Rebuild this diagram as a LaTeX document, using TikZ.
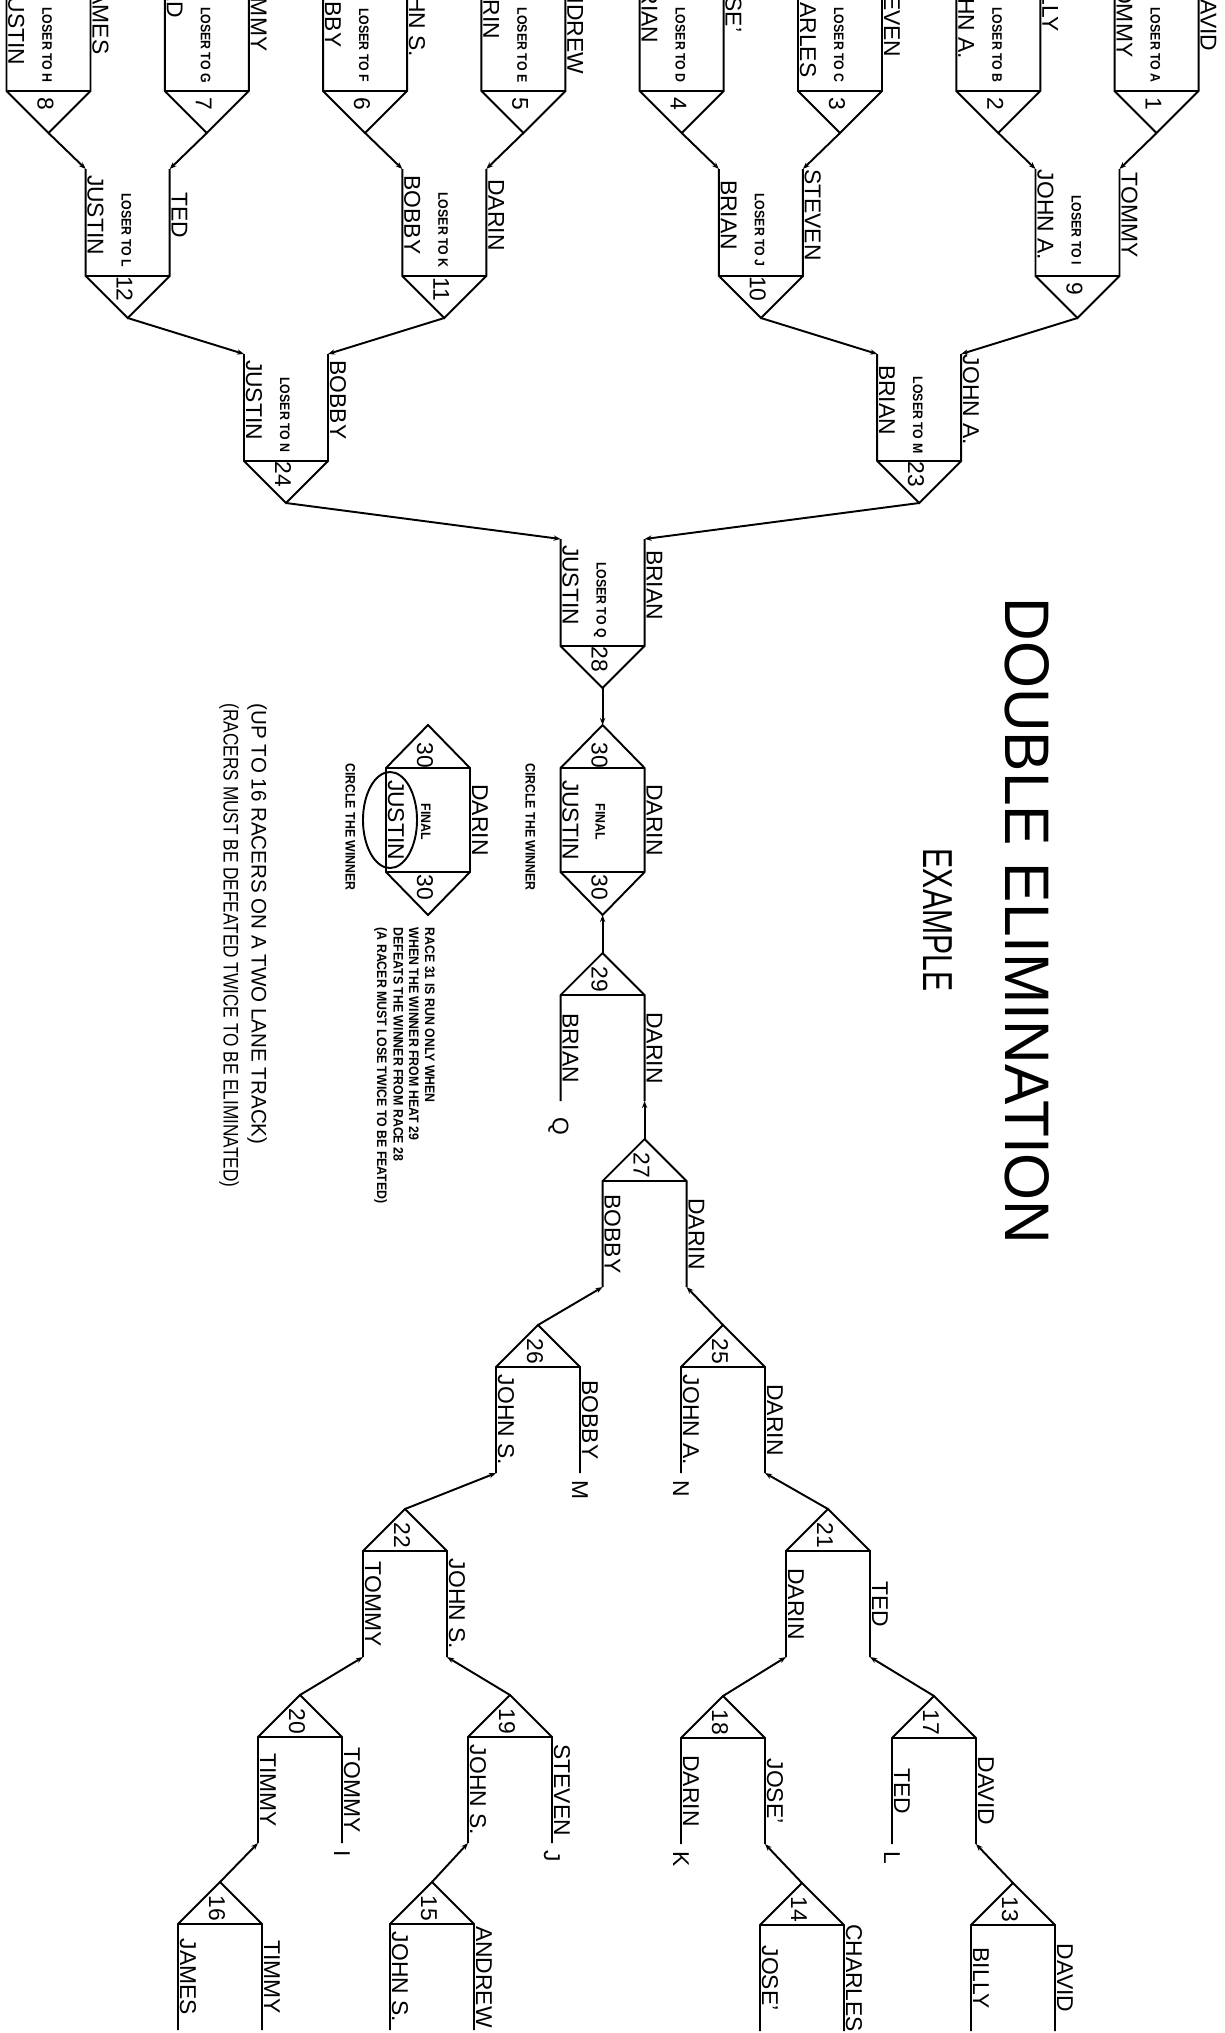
\documentclass[tikz,border=0pt]{standalone}
\usepackage{fontspec}
\usepackage{graphicx}
\setmainfont{Liberation Sans}
\usetikzlibrary{arrows.meta,calc}
\tikzset{
  ln/.style={line width=0.55pt, line join=miter},
  con/.style={line width=0.55pt, -{Stealth[length=2pt,width=1.5pt]}},
  nm/.style={rotate=-90, anchor=base, inner sep=0pt, font=\fontsize{6.5pt}{7pt}\selectfont},
  nmw/.style={nm, anchor=base west},
  nme/.style={nm, anchor=base east},
  sm/.style={rotate=-90, anchor=base, inner sep=0pt, font=\fontsize{3.9pt}{4.5pt}\selectfont\bfseries},
  smw/.style={sm, anchor=base west},
}
\newcommand\sq[1]{\scalebox{0.9}[1]{#1}}
% winners' race body: id, centre x, base y, number, loser letter
\newcommand\DBody[5]{%
  \coordinate (#1tl) at ({#2-42},{#3-107});
  \coordinate (#1tr) at ({#2+42},{#3-107});
  \coordinate (#1bl) at ({#2-42},{#3});
  \coordinate (#1br) at ({#2+42},{#3});
  \coordinate (#1ap) at ({#2},{#3+42});
  \draw[ln] (#1tl) -- (#1bl) -- (#1ap) -- (#1br) -- (#1tr);
  \draw[ln] (#1bl) -- (#1br);
  \node[nm] (#1num) at ({#2-11},{#3+13}) {#4};
  \node[sm] (#1los) at ({#2-6},{#3-46}) {\sq{LOSER TO #5}};
}
% winners' race with centred names
\newcommand\DRace[7]{%
  \DBody{#1}{#2}{#3}{#4}{#7}
  \node[nm] (#1lnm) at ({#2-40},{#3-61}) {#5};
  \node[nm] (#1rnm) at ({#2+44},{#3-61}) {#6};
}
% first-round race: id, centre x, number, left name, its end y, right name, its end y, letter
\newcommand\FirstRace[8]{%
  \DBody{#1}{#2}{91}{#3}{#8}
  \node[nme] (#1lnm) at ({#2-40},{#5}) {#4};
  \node[nme] (#1rnm) at ({#2+44},{#7}) {#6};
}
% losers' race: id, centre x, apex y, number, left name, right name
\newcommand\URace[6]{%
  \coordinate (#1ap) at ({#2},{#3});
  \coordinate (#1bl) at ({#2-42},{#3+42});
  \coordinate (#1br) at ({#2+42},{#3+42});
  \coordinate (#1lb) at ({#2-42},{#3+148});
  \coordinate (#1rb) at ({#2+42},{#3+148});
  \draw[ln] (#1lb) -- (#1bl) -- (#1ap) -- (#1br) -- (#1rb);
  \draw[ln] (#1bl) -- (#1br);
  \node[nm] (#1num) at ({#2-11},{#3+26}) {#4};
  \node[nm] (#1lnm) at ({#2-40},{#3+95}) {#5};
  \node[nm] (#1rnm) at ({#2+44},{#3+95}) {#6};
}
% final: id, centre x
\newcommand\FRace[2]{%
  \coordinate (#1ta) at ({#2},725);
  \coordinate (#1tl) at ({#2-42},768);
  \coordinate (#1tr) at ({#2+42},768);
  \coordinate (#1bl) at ({#2-42},872);
  \coordinate (#1br) at ({#2+42},872);
  \coordinate (#1ba) at ({#2},915);
  \draw[ln] (#1ta) -- (#1tr) -- (#1br) -- (#1ba) -- (#1bl) -- (#1tl) -- cycle;
  \draw[ln] (#1tl) -- (#1tr) (#1bl) -- (#1br);
  \node[nm] (#1tn) at ({#2-11},755) {30};
  \node[nm] (#1bn) at ({#2-11},887) {30};
  \node[sm] (#1fin) at ({#2-7},822) {\sq{FINAL}};
  \node[nm] (#1lnm) at ({#2-40},820) {JUSTIN};
  \node[nm] (#1rnm) at ({#2+44},820) {DARIN};
}
\begin{document}
\begin{tikzpicture}[x=0.01cm,y=-0.01cm]
\useasboundingbox (0,0) rectangle (1225,2033);
\clip (0,0) rectangle (1225,2033);
% winners' bracket, first round (names run off the top edge)
\FirstRace{r8}{48.5}{8}{JUSTIN}{66}{JAMES}{55}{H}
\FirstRace{r7}{206.8}{7}{TED}{19}{TIMMY}{52}{G}
\FirstRace{r6}{365.1}{6}{BOBBY}{48}{JOHN S.}{58}{F}
\FirstRace{r5}{523.4}{5}{DARIN}{40}{ANDREW}{75}{E}
\FirstRace{r4}{681.7}{4}{BRIAN}{44}{JOSE'}{33}{D}
\FirstRace{r3}{840.0}{3}{CHARLES}{78}{STEVEN}{58}{C}
\FirstRace{r2}{998.3}{2}{JOHN A.}{60}{BILLY}{32}{B}
\FirstRace{r1}{1156.6}{1}{TOMMY}{58}{DAVID}{52}{A}
% later rounds
\DRace{r12}{127.7}{276}{12}{JUSTIN}{TED}{L}
\DRace{r11}{444.3}{276}{11}{BOBBY}{DARIN}{K}
\DRace{r10}{760.9}{276}{10}{BRIAN}{STEVEN}{J}
\DRace{r9}{1077.5}{276}{9}{JOHN A.}{TOMMY}{I}
\DRace{r24}{286}{461}{24}{JUSTIN}{BOBBY}{N}
\DRace{r23}{919.2}{461}{23}{BRIAN}{JOHN A.}{M}
\DRace{r28}{602.6}{646}{28}{JUSTIN}{BRIAN}{Q}
% finals
\FRace{fa}{602.6}
\FRace{fb}{428}
% losers' bracket
\URace{r29}{602.6}{953}{29}{BRIAN}{DARIN}
\URace{r27}{644.6}{1139}{27}{BOBBY}{DARIN}
\URace{r26}{538}{1325}{26}{JOHN S.}{BOBBY}
\URace{r25}{723}{1325}{25}{JOHN A.}{DARIN}
\URace{r22}{405}{1509}{22}{TOMMY}{JOHN S.}
\URace{r21}{828}{1509}{21}{DARIN}{TED}
\URace{r20}{300}{1695}{20}{TIMMY}{TOMMY}
\URace{r19}{510}{1695}{19}{JOHN S.}{STEVEN}
\URace{r18}{723}{1696}{18}{DARIN}{JOSE'}
\URace{r17}{934}{1696}{17}{TED}{DAVID}
\URace{r16}{220}{1882}{16}{JAMES}{TIMMY}
\URace{r15}{432}{1882}{15}{JOHN S.}{ANDREW}
\URace{r14}{802}{1883}{14}{JOSE'}{CHARLES}
\URace{r13}{1013}{1883}{13}{BILLY}{DAVID}
% connectors, winners
\draw[con] (r8ap) -- (r12tl);
\draw[con] (r7ap) -- (r12tr);
\draw[con] (r6ap) -- (r11tl);
\draw[con] (r5ap) -- (r11tr);
\draw[con] (r4ap) -- (r10tl);
\draw[con] (r3ap) -- (r10tr);
\draw[con] (r2ap) -- (r9tl);
\draw[con] (r1ap) -- (r9tr);
\draw[con] (r12ap) -- (r24tl);
\draw[con] (r11ap) -- (r24tr);
\draw[con] (r10ap) -- (r23tl);
\draw[con] (r9ap) -- (r23tr);
\draw[con] (r24ap) -- (r28tl);
\draw[con] (r23ap) -- (r28tr);
\draw[con] (r28ap) -- (fata);
% connectors, losers
\draw[con] (r29ap) -- (faba);
\draw[con] (r27ap) -- (r29rb);
\draw[con] (r26ap) -- (r27lb);
\draw[con] (r25ap) -- (r27rb);
\draw[con] (r22ap) -- (r26lb);
\draw[con] (r21ap) -- (r25rb);
\draw[con] (r20ap) -- (r22lb);
\draw[con] (r19ap) -- (r22rb);
\draw[con] (r18ap) -- (r21lb);
\draw[con] (r17ap) -- (r21rb);
\draw[con] (r16ap) -- (r20lb);
\draw[con] (r15ap) -- (r19lb);
\draw[con] (r14ap) -- (r18rb);
\draw[con] (r13ap) -- (r17rb);
% letters at line ends
\node[nmw] (lq) at ($(r29lb)+(-8,16)$) {Q};
\node[nmw] (lm) at ($(r26rb)+(-8,7)$) {M};
\node[nmw] (lnn) at ($(r25lb)+(-8,7)$) {N};
\node[nmw] (li) at ($(r20rb)+(-8,7)$) {I};
\node[nmw] (lj) at ($(r19rb)+(-8,7)$) {J};
\node[nmw] (lk) at ($(r18lb)+(-8,7)$) {K};
\node[nmw] (ll) at ($(r17lb)+(-8,7)$) {L};
% circle around the winner
\draw[ln] (390,820) ellipse [x radius=0.27cm, y radius=0.48cm];
% texts
\node[sm] (cw1) at (525.6,827) {\sq{CIRCLE THE WINNER}};
\node[sm] (cw2) at (345.6,827) {\sq{CIRCLE THE WINNER}};
\node[smw] (ra) at (425,927) {\sq{RACE 31 IS RUN ONLY WHEN}};
\node[smw] (rb) at (409,927) {\sq{WHEN THE WINNER FROM HEAT 29}};
\node[smw] (rc) at (393.5,927) {\sq{DEFEATS THE WINNER FROM RACE 28}};
\node[smw] (rd) at (377,927) {\sq{(A RACER MUST LOSE TWICE TO BE FEATED)}};
\node[nm, font=\fontsize{17.9pt}{20pt}\selectfont] (title) at (1005,921) {\scalebox{0.96}[1]{DOUBLE ELIMINATION}};
\node[nm, font=\fontsize{11.9pt}{13pt}\selectfont] (example) at (923,920) {\scalebox{0.72}[1]{EXAMPLE}};
\node[nmw, font=\fontsize{6pt}{7pt}\selectfont] (note1) at (251.5,703) {\scalebox{0.975}[1]{(UP TO 16 RACERS ON A TWO LANE TRACK)}};
\node[nmw, font=\fontsize{6pt}{7pt}\selectfont] (note2) at (223.5,703) {\scalebox{0.817}[1]{(RACERS MUST BE DEFEATED TWICE TO BE ELIMINATED)}};
\end{tikzpicture}
\end{document}
